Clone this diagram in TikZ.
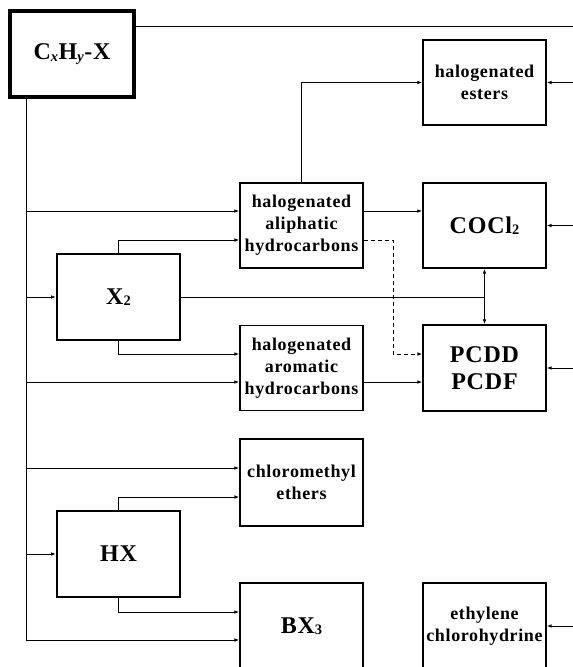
\documentclass[tikz,border=0pt]{standalone}
\usepackage{fontspec}
\setmainfont{Liberation Serif}[LetterSpace=3.5]
\usetikzlibrary{arrows.meta}
\newcommand{\lowsub}[1]{\raisebox{-1.5pt}{\fontsize{14.5pt}{14.5pt}\selectfont #1}}
\tikzset{
  box/.style={draw, line width=1.2pt, minimum width=123pt, minimum height=85pt, inner sep=0pt, align=center,
    font=\fontsize{18pt}{22pt}\selectfont\bfseries},
  bigtxt/.style={font=\fontsize{24pt}{28pt}\selectfont\bfseries},
  midbox/.style={box, line width=2pt},
  thickbox/.style={box, line width=3.6pt},
  conn/.style={line width=1pt},
  arr/.style={conn, -{Latex[length=5pt,width=3.6pt]}},
}
\begin{document}
\begin{tikzpicture}[x=1pt,y=-1pt]
\clip (0,0) rectangle (573,667);
\fill[white] (0,0) rectangle (573,667);
% nodes
\node[thickbox, bigtxt, minimum width=124pt, minimum height=86pt] (cxhy) at (72,54) {C\lowsub{\textit{x}}H\lowsub{\textit{y}}-X};
\node[box] (esters) at (484.5,82.5) {halogenated\\esters};
\node[box] (aliph) at (301.5,225.5) {halogenated\\aliphatic\\hydrocarbons};
\node[box, bigtxt] (cocl) at (484.5,225.5) {COCl\lowsub{2}};
\node[midbox, bigtxt, minimum height=86pt] (x2) at (118.5,297) {X\lowsub{2}};
\node[box] (arom) at (301.5,368) {halogenated\\aromatic\\hydrocarbons};
\node[box, bigtxt, minimum height=86pt, font=\fontsize{24pt}{27pt}\selectfont\bfseries] (pcdd) at (484.5,368) {PCDD\\PCDF};
\node[box, minimum height=87pt] (chlor) at (301.5,482.5) {chloromethyl\\ethers};
\node[midbox, bigtxt, minimum height=86pt] (hx) at (118.5,554) {HX};
\node[box, bigtxt, minimum height=86pt] (bx3) at (301.5,626) {BX\lowsub{3}};
\node[box, minimum height=86pt] (ethyl) at (484.5,626) {ethylene\\chlorohydrine};
% coordinates
\coordinate (edge) at (573,0);
\coordinate (tr) at (573,26);
\coordinate (busbot) at (26,640);
\coordinate (ya) at (0,211);
\coordinate (yb) at (0,240);
\coordinate (yc) at (0,354);
\coordinate (yd) at (0,382);
\coordinate (ye) at (0,468);
\coordinate (yf) at (0,497);
\coordinate (yg) at (0,612);
\coordinate (d1) at (393,354);
% top line
\draw[conn] (cxhy.east |- tr) -- (tr);
% bus
\draw[conn] (cxhy.south -| busbot) -- (busbot);
\draw[arr] (busbot) -- (bx3.west |- busbot);
\draw[arr] (busbot |- ya) -- (aliph.west |- ya);
\draw[arr] (busbot |- x2.west) -- (x2.west);
\draw[arr] (busbot |- yd) -- (arom.west |- yd);
\draw[arr] (busbot |- ye) -- (chlor.west |- ye);
\draw[arr] (busbot |- hx.west) -- (hx.west);
% X2
\draw[arr] (x2.north) |- (aliph.west |- yb);
\draw[arr] (x2.south) |- (arom.west |- yc);
\coordinate (j) at (cocl.south |- x2.east);
\draw[conn] (x2.east) -- (j);
\draw[arr] (j) -- (cocl.south);
\draw[arr] (j) -- (pcdd.north);
% HX
\draw[arr] (hx.north) |- (chlor.west |- yf);
\draw[arr] (hx.south) |- (bx3.west |- yg);
% aliphatic
\draw[arr] (aliph.north) |- (esters.west);
\draw[arr] (aliph.east |- ya) -- (cocl.west |- ya);
\draw[arr, dash pattern=on 4pt off 3pt] (aliph.east |- yb) -| (d1) -- (pcdd.west |- d1);
% aromatic
\draw[arr] (arom.east |- yd) -- (pcdd.west |- yd);
% right edge inputs
\draw[arr] (esters.east -| edge) -- (esters.east);
\draw[arr] (cocl.east -| edge) -- (cocl.east);
\draw[arr] (pcdd.east -| edge) -- (pcdd.east);
\draw[arr] (ethyl.east -| edge) -- (ethyl.east);
\end{tikzpicture}
\end{document}
